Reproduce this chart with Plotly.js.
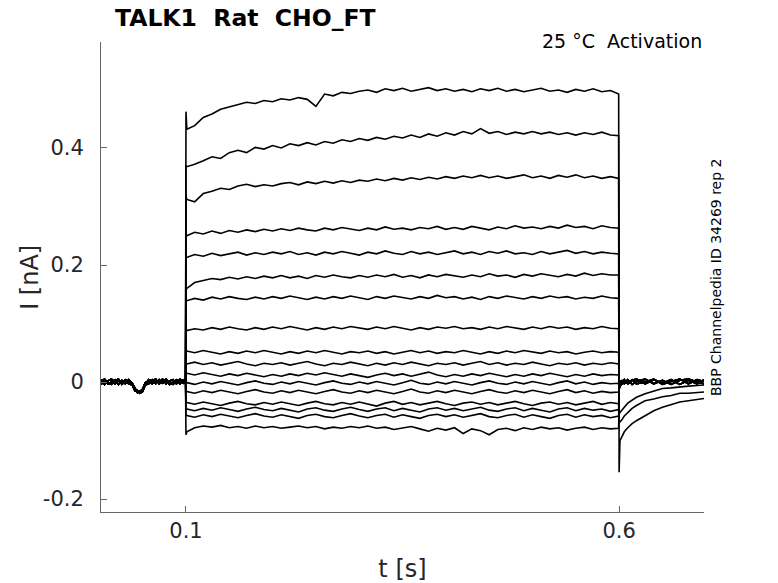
<!DOCTYPE html>
<html>
<head>
<meta charset="utf-8">
<script src="https://cdn.plot.ly/plotly-3.0.1.min.js"></script>
<style>
  body { margin: 0; background: #fff; }
  #myDiv { width: 778px; height: 583px; }
</style>
</head>
<body>
<div id="myDiv"></div>
<script>
// time bases (s)
var tPre = [0.002, 0.006, 0.010, 0.014, 0.018, 0.022, 0.026, 0.030, 0.034, 0.038, 0.041, 0.044, 0.047, 0.050,
  0.053, 0.057, 0.061, 0.065, 0.069, 0.073, 0.077, 0.081, 0.085, 0.089, 0.093, 0.097, 0.0995];
var tStep = [0.1, 0.101, 0.11, 0.12, 0.13, 0.14, 0.15, 0.16, 0.17, 0.18, 0.19, 0.20,
  0.21, 0.22, 0.23, 0.24, 0.25, 0.26, 0.27, 0.28, 0.29, 0.30,
  0.31, 0.32, 0.33, 0.34, 0.35, 0.36, 0.37, 0.38, 0.39, 0.40,
  0.41, 0.42, 0.43, 0.44, 0.45, 0.46, 0.47, 0.48, 0.49, 0.50,
  0.51, 0.52, 0.53, 0.54, 0.55, 0.56, 0.57, 0.58, 0.59,
  0.5995];
var tPost = [0.6, 0.601, 0.603, 0.606, 0.61, 0.615, 0.62, 0.63, 0.64, 0.65, 0.66, 0.67, 0.68, 0.69, 0.698];

// holding current before the step (nA)
var holdA = [0.004, -0.004, 0.002, 0.005, -0.003, 0.003, -0.002, 0.004, 0.001, -0.004, -0.013, -0.016, -0.015, -0.014,
  -0.003, 0.004, -0.003, 0.003, 0.000, 0.005, -0.003, 0.002, 0.004, -0.003, 0.003, -0.002, 0.001];
var holdB = [-0.004, 0.003, -0.003, 0.000, 0.004, -0.004, 0.003, -0.003, 0.004, -0.002, -0.011, -0.018, -0.017, -0.012,
  -0.001, 0.002, 0.004, -0.003, 0.004, -0.002, 0.003, -0.004, 0.000, 0.004, -0.003, 0.003, -0.002];
var holdC = [0.001, 0.005, -0.002, -0.004, 0.002, 0.005, -0.004, 0.001, -0.003, -0.005, -0.015, -0.014, -0.019, -0.016,
  -0.005, -0.003, 0.002, 0.005, -0.003, 0.001, 0.005, -0.002, -0.004, 0.001, 0.005, 0.002, 0.000];

// currents after the step (nA)
var postA = [-0.004, 0.003, -0.004, 0.004, -0.003, 0.003, 0.005, -0.003, 0.004, -0.002, 0.004, -0.004, 0.003, -0.003, 0.004];
var postB = [-0.008, -0.004, 0.003, -0.003, 0.004, -0.004, 0.001, 0.005, -0.003, 0.003, -0.004, 0.003, 0.005, 0.000, -0.003];
var postC = [-0.012, -0.007, -0.003, 0.003, -0.002, 0.004, -0.003, 0.000, 0.005, -0.004, 0.001, 0.005, -0.003, 0.004, 0.001];
var tail1 = [-0.154, -0.100, -0.094, -0.085, -0.078, -0.071, -0.066, -0.058, -0.049, -0.043, -0.039, -0.034, -0.032, -0.030, -0.028];
var tail2 = [-0.070, -0.068, -0.065, -0.058, -0.052, -0.045, -0.040, -0.032, -0.029, -0.025, -0.023, -0.019, -0.019, -0.018, -0.017];
var tail3 = [-0.055, -0.052, -0.049, -0.043, -0.036, -0.031, -0.026, -0.020, -0.015, -0.011, -0.010, -0.008, -0.007, -0.006, -0.005];

// currents during the step, one array per sweep (nA)
var sweep1 = [0.462, 0.432, 0.438, 0.452, 0.458, 0.466, 0.470, 0.474, 0.478, 0.476, 0.481, 0.479,
  0.484, 0.482, 0.486, 0.483, 0.471, 0.492, 0.489, 0.495, 0.493, 0.497,
  0.499, 0.495, 0.501, 0.498, 0.502, 0.497, 0.500, 0.503, 0.498, 0.501,
  0.497, 0.500, 0.496, 0.501, 0.498, 0.502, 0.497, 0.500, 0.496, 0.499,
  0.502, 0.497, 0.499, 0.495, 0.500, 0.497, 0.501, 0.496, 0.498,
  0.492];
var sweep2 = [0.370, 0.368, 0.372, 0.378, 0.385, 0.382, 0.392, 0.396, 0.392, 0.401, 0.398, 0.404,
  0.400, 0.407, 0.404, 0.409, 0.405, 0.411, 0.408, 0.414, 0.411, 0.416,
  0.413, 0.418, 0.415, 0.420, 0.417, 0.422, 0.418, 0.424, 0.420, 0.426,
  0.422, 0.428, 0.424, 0.433, 0.425, 0.428, 0.423, 0.427, 0.424, 0.428,
  0.424, 0.427, 0.423, 0.426, 0.422, 0.426, 0.423, 0.427, 0.422,
  0.421];
var sweep3 = [0.318, 0.312, 0.308, 0.322, 0.326, 0.331, 0.329, 0.335, 0.338, 0.334, 0.337, 0.335,
  0.339, 0.341, 0.337, 0.342, 0.339, 0.343, 0.340, 0.344, 0.341, 0.345,
  0.343, 0.347, 0.344, 0.348, 0.345, 0.349, 0.346, 0.350, 0.347, 0.351,
  0.348, 0.352, 0.349, 0.353, 0.349, 0.352, 0.348, 0.351, 0.354, 0.349,
  0.352, 0.348, 0.353, 0.350, 0.354, 0.349, 0.352, 0.348, 0.351,
  0.348];
var sweep4 = [0.252, 0.250, 0.256, 0.253, 0.258, 0.254, 0.259, 0.256, 0.260, 0.257, 0.261, 0.258,
  0.262, 0.259, 0.263, 0.260, 0.258, 0.263, 0.260, 0.264, 0.261, 0.259,
  0.263, 0.260, 0.265, 0.261, 0.263, 0.260, 0.264, 0.262, 0.266, 0.261,
  0.264, 0.261, 0.266, 0.263, 0.260, 0.265, 0.262, 0.267, 0.263, 0.265,
  0.262, 0.266, 0.263, 0.268, 0.264, 0.266, 0.262, 0.267, 0.264,
  0.263];
var sweep5 = [0.214, 0.213, 0.218, 0.215, 0.220, 0.216, 0.219, 0.222, 0.217, 0.221, 0.218, 0.222,
  0.219, 0.223, 0.218, 0.221, 0.217, 0.222, 0.219, 0.223, 0.220, 0.217,
  0.222, 0.219, 0.224, 0.220, 0.218, 0.223, 0.219, 0.222, 0.218, 0.221,
  0.224, 0.219, 0.222, 0.218, 0.223, 0.220, 0.224, 0.219, 0.221, 0.218,
  0.223, 0.219, 0.222, 0.225, 0.220, 0.223, 0.219, 0.222, 0.220,
  0.219];
var sweep6 = [0.157, 0.160, 0.170, 0.174, 0.177, 0.175, 0.179, 0.176, 0.180, 0.177, 0.181, 0.178,
  0.182, 0.178, 0.181, 0.177, 0.182, 0.179, 0.183, 0.180, 0.178, 0.182,
  0.179, 0.183, 0.180, 0.184, 0.179, 0.182, 0.178, 0.183, 0.180, 0.184,
  0.181, 0.179, 0.183, 0.180, 0.185, 0.181, 0.183, 0.179, 0.184, 0.181,
  0.185, 0.182, 0.180, 0.184, 0.181, 0.186, 0.182, 0.185, 0.183,
  0.183];
var sweep7 = [0.140, 0.139, 0.143, 0.140, 0.145, 0.142, 0.146, 0.143, 0.141, 0.145, 0.142, 0.146,
  0.143, 0.147, 0.144, 0.141, 0.145, 0.142, 0.146, 0.143, 0.147, 0.144,
  0.141, 0.146, 0.143, 0.147, 0.144, 0.142, 0.146, 0.143, 0.148, 0.144,
  0.146, 0.142, 0.145, 0.141, 0.146, 0.143, 0.147, 0.144, 0.142, 0.146,
  0.143, 0.147, 0.144, 0.146, 0.142, 0.145, 0.143, 0.147, 0.144,
  0.143];
var sweep8 = [0.090, 0.088, 0.091, 0.089, 0.093, 0.090, 0.094, 0.091, 0.089, 0.093, 0.090, 0.094,
  0.091, 0.095, 0.092, 0.089, 0.093, 0.090, 0.094, 0.091, 0.095, 0.092,
  0.090, 0.094, 0.091, 0.095, 0.092, 0.089, 0.093, 0.090, 0.094, 0.092,
  0.095, 0.091, 0.093, 0.090, 0.094, 0.091, 0.095, 0.092, 0.090, 0.094,
  0.091, 0.095, 0.092, 0.094, 0.090, 0.093, 0.091, 0.095, 0.092,
  0.091];
var sweep9 = [0.052, 0.053, 0.050, 0.054, 0.051, 0.048, 0.052, 0.049, 0.053, 0.050, 0.054, 0.051,
  0.048, 0.052, 0.049, 0.053, 0.050, 0.054, 0.051, 0.048, 0.052, 0.050,
  0.053, 0.049, 0.052, 0.048, 0.051, 0.054, 0.050, 0.053, 0.049, 0.052,
  0.050, 0.054, 0.051, 0.048, 0.052, 0.049, 0.053, 0.050, 0.054, 0.051,
  0.049, 0.053, 0.050, 0.052, 0.048, 0.051, 0.053, 0.050, 0.052,
  0.051];
var sweep10 = [0.032, 0.031, 0.034, 0.030, 0.033, 0.029, 0.032, 0.035, 0.031, 0.028, 0.032, 0.030,
  0.033, 0.029, 0.032, 0.035, 0.031, 0.028, 0.032, 0.030, 0.034, 0.031,
  0.028, 0.032, 0.029, 0.033, 0.030, 0.034, 0.031, 0.028, 0.032, 0.030,
  0.033, 0.029, 0.032, 0.035, 0.030, 0.033, 0.029, 0.032, 0.030, 0.034,
  0.031, 0.028, 0.032, 0.030, 0.033, 0.029, 0.032, 0.030, 0.033,
  0.031];
var sweep11 = [0.014, 0.015, 0.012, 0.016, 0.013, 0.010, 0.014, 0.011, 0.015, 0.012, 0.009, 0.013,
  0.010, 0.014, 0.011, 0.015, 0.012, 0.016, 0.013, 0.010, 0.014, 0.011,
  0.008, 0.012, 0.015, 0.011, 0.014, 0.010, 0.013, 0.017, 0.012, 0.009,
  0.013, 0.010, 0.014, 0.011, 0.015, 0.012, 0.009, 0.013, 0.010, 0.014,
  0.011, 0.015, 0.012, 0.009, 0.013, 0.010, 0.014, 0.011, 0.013,
  0.012];
var sweep12 = [0.000, -0.001, -0.004, 0.000, -0.003, 0.001, -0.002, -0.005, -0.001, 0.002, -0.002, -0.004,
  0.000, -0.003, 0.001, -0.002, -0.005, -0.001, 0.002, -0.002, -0.004, 0.000,
  -0.003, 0.001, -0.002, -0.005, -0.001, 0.003, -0.002, -0.004, 0.000, -0.003,
  0.001, -0.002, -0.005, -0.001, 0.002, -0.002, -0.004, 0.000, -0.003, 0.001,
  -0.002, -0.005, -0.001, 0.002, -0.003, 0.000, -0.004, -0.001, -0.003,
  -0.002];
var sweep13 = [-0.014, -0.016, -0.019, -0.015, -0.018, -0.014, -0.017, -0.020, -0.016, -0.013, -0.017, -0.019,
  -0.015, -0.018, -0.014, -0.017, -0.020, -0.016, -0.013, -0.017, -0.019, -0.015,
  -0.018, -0.014, -0.017, -0.020, -0.016, -0.012, -0.017, -0.019, -0.015, -0.018,
  -0.014, -0.017, -0.020, -0.016, -0.013, -0.017, -0.019, -0.015, -0.018, -0.014,
  -0.017, -0.020, -0.016, -0.013, -0.018, -0.015, -0.019, -0.016, -0.018,
  -0.017];
var sweep14 = [-0.033, -0.035, -0.038, -0.034, -0.037, -0.040, -0.036, -0.033, -0.037, -0.039, -0.035, -0.038,
  -0.034, -0.037, -0.040, -0.036, -0.033, -0.037, -0.039, -0.035, -0.038, -0.034,
  -0.037, -0.041, -0.036, -0.033, -0.038, -0.035, -0.039, -0.036, -0.033, -0.037,
  -0.040, -0.036, -0.034, -0.038, -0.035, -0.039, -0.036, -0.033, -0.037, -0.040,
  -0.036, -0.034, -0.038, -0.035, -0.039, -0.036, -0.033, -0.038, -0.035,
  -0.037];
var sweep15 = [-0.044, -0.046, -0.049, -0.045, -0.048, -0.044, -0.047, -0.050, -0.046, -0.043, -0.047, -0.049,
  -0.045, -0.048, -0.051, -0.046, -0.044, -0.048, -0.050, -0.046, -0.043, -0.047,
  -0.050, -0.046, -0.044, -0.049, -0.045, -0.048, -0.051, -0.046, -0.044, -0.048,
  -0.045, -0.049, -0.046, -0.043, -0.048, -0.050, -0.046, -0.044, -0.049, -0.045,
  -0.048, -0.051, -0.046, -0.044, -0.049, -0.045, -0.048, -0.046, -0.050,
  -0.047];
var sweep16 = [-0.055, -0.057, -0.060, -0.056, -0.059, -0.055, -0.058, -0.061, -0.057, -0.054, -0.058, -0.060,
  -0.056, -0.059, -0.062, -0.057, -0.055, -0.059, -0.061, -0.057, -0.054, -0.058,
  -0.061, -0.057, -0.055, -0.060, -0.056, -0.059, -0.062, -0.057, -0.055, -0.059,
  -0.056, -0.060, -0.057, -0.054, -0.059, -0.061, -0.057, -0.055, -0.060, -0.056,
  -0.059, -0.062, -0.057, -0.055, -0.060, -0.056, -0.059, -0.057, -0.061,
  -0.058];
var sweep17 = [-0.090, -0.085, -0.078, -0.075, -0.077, -0.074, -0.078, -0.076, -0.079, -0.075, -0.078, -0.076,
  -0.079, -0.077, -0.075, -0.078, -0.076, -0.080, -0.077, -0.079, -0.076, -0.078,
  -0.075, -0.079, -0.077, -0.081, -0.078, -0.076, -0.080, -0.084, -0.079, -0.082,
  -0.078, -0.088, -0.080, -0.083, -0.090, -0.081, -0.079, -0.083, -0.078, -0.081,
  -0.077, -0.080, -0.078, -0.082, -0.079, -0.077, -0.081, -0.078, -0.080,
  -0.079];

var sweeps = [sweep1, sweep2, sweep3, sweep4, sweep5, sweep6, sweep7, sweep8, sweep9,
  sweep10, sweep11, sweep12, sweep13, sweep14, sweep15, sweep16, sweep17];
var holds = [holdA, holdB, holdC];
var posts = [tail1, tail2, tail3];
var basePosts = [postA, postB, postC];

var tAll = tPre.concat(tStep, tPost);
var data = [];
for (var i = 0; i < sweeps.length; i++) {
  var after = i < 3 ? posts[i] : basePosts[i % 3];
  data.push({
    x: tAll,
    y: holds[i % 3].concat(sweeps[i], after),
    type: 'scatter',
    mode: 'lines',
    line: {color: '#000', width: 1.6},
    hoverinfo: 'skip'
  });
}

var axisFont = {family: 'DejaVu Sans', size: 21, color: '#262626'};

var layout = {
  width: 778,
  height: 583,
  margin: {l: 101, r: 74, t: 42, b: 71},
  paper_bgcolor: '#fff',
  plot_bgcolor: '#fff',
  showlegend: false,
  font: {family: 'DejaVu Sans', color: '#262626'},
  xaxis: {
    range: [0.0019, 0.698],
    tickvals: [0.1, 0.6],
    ticktext: ['0.1', '0.6'],
    ticks: 'inside',
    ticklen: 6,
    tickcolor: '#666',
    showline: true,
    linecolor: '#666',
    linewidth: 1,
    showgrid: false,
    zeroline: false,
    tickfont: axisFont,
    title: {text: 't [s]', font: {family: 'DejaVu Sans', size: 24, color: '#262626'}, standoff: 17}
  },
  yaxis: {
    range: [-0.222, 0.581],
    tickvals: [-0.2, 0, 0.2, 0.4],
    ticktext: ['-0.2', '0', '0.2', '0.4'],
    ticks: 'inside',
    ticklen: 6,
    tickcolor: '#666',
    showline: true,
    linecolor: '#666',
    linewidth: 1,
    showgrid: false,
    zeroline: false,
    tickfont: axisFont,
    ticklabelstandoff: 12
  },
  annotations: [
    {
      text: 'I [nA]',
      xref: 'paper', yref: 'paper',
      x: -0.118, y: 0.5, xanchor: 'center', yanchor: 'middle',
      textangle: -90,
      showarrow: false,
      font: {family: 'DejaVu Sans', size: 24, color: '#262626'}
    },
    {
      text: '<b>TALK1  Rat  CHO_FT</b>',
      xref: 'paper', yref: 'paper',
      x: 0.02, y: 1.051, xanchor: 'left', yanchor: 'middle',
      showarrow: false,
      font: {family: 'DejaVu Sans', size: 23.5, color: '#000'}
    },
    {
      text: '25 °C  Activation',
      xref: 'paper', yref: 'paper',
      x: 1, y: 1.003, xanchor: 'right', yanchor: 'middle',
      showarrow: false,
      font: {family: 'DejaVu Sans', size: 19, color: '#000'}
    },
    {
      text: 'BBP Channelpedia ID 34269 rep 2',
      xref: 'paper', yref: 'paper',
      x: 1.02, y: 0.5, xanchor: 'center', yanchor: 'middle',
      textangle: -90,
      showarrow: false,
      font: {family: 'DejaVu Sans', size: 14, color: '#000'}
    }
  ]
};

Plotly.newPlot('myDiv', data, layout, {staticPlot: true, displayModeBar: false});
</script>
</body>
</html>
